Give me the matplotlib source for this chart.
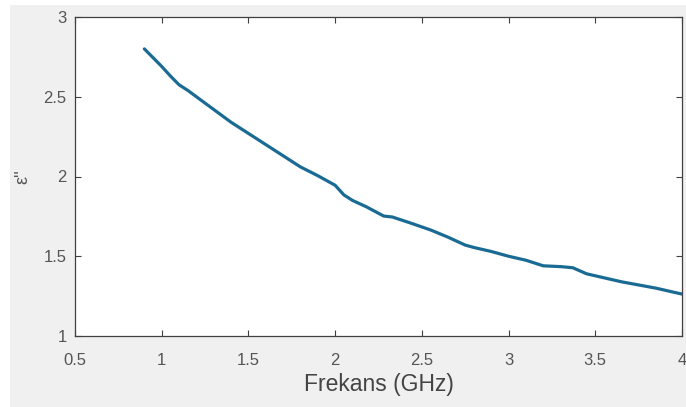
import matplotlib
matplotlib.use("Agg")
import matplotlib.pyplot as plt
from matplotlib.patches import Rectangle

freq_ghz = [0.90, 0.95, 1.00, 1.05, 1.10, 1.15, 1.20, 1.30, 1.40, 1.50, 1.60,
            1.70, 1.80, 1.90, 2.00, 2.05, 2.10, 2.18, 2.28, 2.33, 2.43, 2.55,
            2.65, 2.75, 2.80, 2.90, 3.00, 3.10, 3.20, 3.30, 3.37, 3.45, 3.55,
            3.65, 3.75, 3.85, 3.95, 4.00]
eps_imag = [2.80, 2.745, 2.69, 2.63, 2.575, 2.54, 2.50, 2.42, 2.34, 2.27, 2.20,
            2.13, 2.06, 2.005, 1.945, 1.885, 1.85, 1.81, 1.752, 1.746, 1.71, 1.665,
            1.62, 1.57, 1.555, 1.53, 1.50, 1.475, 1.44, 1.435, 1.428, 1.39, 1.365,
            1.34, 1.32, 1.30, 1.275, 1.263]
x_ticks = [0.5, 1, 1.5, 2, 2.5, 3, 3.5, 4]
x_ticklabels = ["0.5", "1", "1.5", "2", "2.5", "3", "3.5", "4"]
y_ticks = [1, 1.5, 2, 2.5, 3]
y_ticklabels = ["1", "1.5", "2", "2.5", "3"]

plt.rcParams['font.family'] = ['Liberation Sans', 'DejaVu Sans']

W, H = 686, 407
fig = plt.figure(figsize=(W / 100, H / 100), dpi=100)
fig.patch.set_facecolor('white')
fig.patches.append(Rectangle((10 / W, 0), 1 - 10 / W, (H - 5) / H,
                             transform=fig.transFigure, facecolor='#f0f0f0',
                             edgecolor='none', zorder=-10))

ax = fig.add_axes([75 / W, (H - 336) / H, (682 - 75) / W, (336 - 17) / H])
ax.set_facecolor('white')
ax.plot(freq_ghz, eps_imag, color='#1a6b94', linewidth=2.3,
        solid_capstyle='round', solid_joinstyle='round')

ax.set_xlim(0.5, 4)
ax.set_ylim(1, 3)
ax.set_xticks(x_ticks)
ax.set_xticklabels(x_ticklabels)
ax.set_yticks(y_ticks)
ax.set_yticklabels(y_ticklabels)
ax.tick_params(direction='in', length=4, width=0.8, top=True, right=True,
               labelsize=12, colors='#404040', labelcolor='#555555')
ax.tick_params(axis='x', pad=12)
ax.tick_params(axis='y', pad=6)
for s in ax.spines.values():
    s.set_color('#404040')
    s.set_linewidth(0.9)

ax.set_xlabel('Frekans (GHz)', fontsize=16.5, color='#444444', labelpad=4)
ax.set_ylabel("ε''", fontsize=13, color='#555555', labelpad=9)

fig.savefig('out.png', dpi=100, facecolor=fig.get_facecolor())
